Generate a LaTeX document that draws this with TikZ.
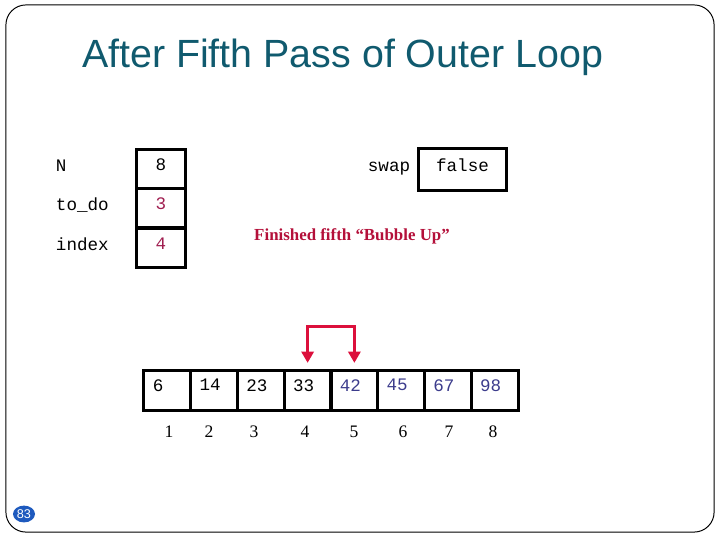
\documentclass[tikz,border=0pt]{standalone}
\usepackage{fontspec}
\setmainfont{Liberation Serif}
\setsansfont{Liberation Sans}
\setmonofont{Liberation Mono}
\usetikzlibrary{shapes.geometric, arrows.meta, positioning, calc}

\definecolor{titleteal}{RGB}{16,90,110}
\definecolor{valred}{RGB}{160,30,80}
\definecolor{capred}{RGB}{180,16,58}
\definecolor{valblue}{RGB}{60,60,140}
\definecolor{arrowred}{RGB}{220,16,60}
\definecolor{pageblue}{RGB}{30,90,190}

\begin{document}
\begin{tikzpicture}[
    x=0.025cm, y=-0.025cm,
    % Define node styles
    varname/.style={anchor=west, font=\ttfamily\fontsize{12.5}{14}\selectfont},
    valbox/.style={rectangle, draw, line width=0.075cm, minimum width=1.2cm, minimum height=0.975cm,
        inner sep=0pt, text depth=0.2cm, font=\ttfamily\fontsize{12.5}{14}\selectfont},
    cell/.style={rectangle, draw, line width=0.075cm, minimum width=1.169cm, minimum height=1cm,
        inner xsep=0.22cm, inner ysep=0pt, text width=0.73cm, align=left, text depth=0.24cm,
        font=\ttfamily\fontsize{12.5}{14}\selectfont},
    idx/.style={font=\fontsize{12.5}{14}\selectfont},
    % Define edge style
    swaparrow/.style={line width=0.075cm, arrowred,
        {Triangle[width=0.3cm,length=0.28cm]}-{Triangle[width=0.3cm,length=0.28cm]}},
]
\useasboundingbox (0,0) rectangle (720,540);

% Slide frame and page number
\node[rectangle, draw, line width=0.7pt, rounded corners=0.5cm, minimum width=17.7cm, minimum height=13.175cm]
    (frame) at (360,268.5) {};
\node[ellipse, fill=pageblue, text=white, minimum width=0.55cm, minimum height=0.42cm, inner sep=0pt,
    font=\sffamily\fontsize{9}{10}\selectfont] (page) at (24,514) {83};

% Title
\node[font=\sffamily\fontsize{28}{32}\selectfont, text=titleteal] (title) at (342.5,57) {After Fifth Pass of Outer Loop};

% Variables
\node[varname] (lblN) at (51,166) {N};
\node[varname] (lblToDo) at (51,205) {to\_do};
\node[varname] (lblIndex) at (51,244) {index};
\node[valbox] (valN) at (161,169) {8};
\node[valbox, text=valred] (valToDo) at (161,208) {3};
\node[valbox, text=valred] (valIndex) at (161,247.5) {4};

\node[varname, anchor=center] (lblSwap) at (389,169) {swap};
\node[valbox, minimum width=2.175cm, minimum height=1.025cm] (valSwap) at (462.5,169.5) {false};

% Caption
\node[font=\bfseries\fontsize{12}{14}\selectfont, text=capred] (caption) at (352,236) {Finished fifth “Bubble Up”};

% The array
\foreach \v/\c [count=\i] in {6/black, 14/black, 23/black, 33/black, 42/valblue, 45/valblue, 67/valblue, 98/valblue} {
    \node[cell, text=\c] (c\i) at ({144+46.75*(\i-0.5)},390) {\v};
}

% Index numbers
\foreach \x [count=\i] in {169, 209, 254, 305, 354, 403, 449, 493} {
    \node[idx] (i\i) at (\x,432) {\i};
}

% Swap arrow
\draw[swaparrow] ([yshift=0.14cm]c4.north) -- ++(0,-36) -| ([yshift=0.14cm]c5.north);

\end{tikzpicture}
\end{document}
